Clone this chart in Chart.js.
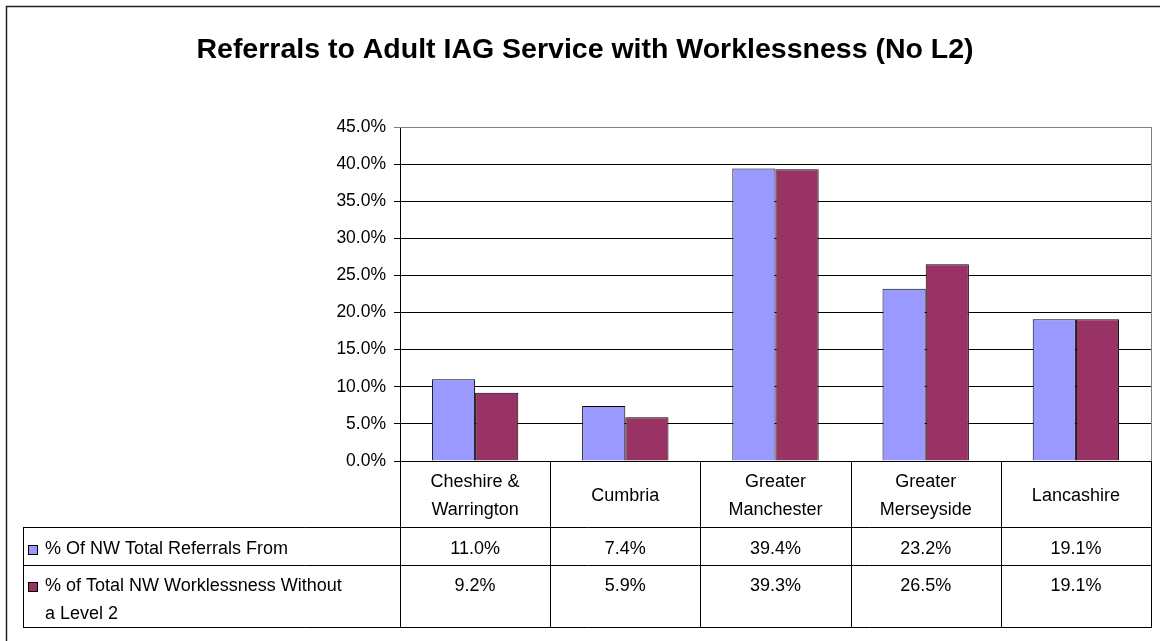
<!DOCTYPE html>
<html lang="en">
<head>
  <meta charset="UTF-8" />
  <title>Referrals to Adult IAG Service with Worklessness (No L2)</title>
  <script src="https://cdn.jsdelivr.net/npm/chart.js"></script>
  <style>
    body {
      margin: 0;
      background: #fff;
      overflow: hidden;
    }
    #wrap {
      position: relative;
      width: 1160px;
      height: 641px;
    }
  </style>
</head>
<body>
  <div id="wrap"><canvas id="chart" width="1160" height="641"></canvas></div>

  <script>
    const chartTitle = "Referrals to Adult IAG Service with Worklessness (No L2)";
    const categories = [["Cheshire &", "Warrington"], ["Cumbria"], ["Greater", "Manchester"], ["Greater", "Merseyside"], ["Lancashire"]];
    const seriesNames = [["% Of NW Total Referrals From"], ["% of Total NW Worklessness Without", "a Level 2"]];
    const referrals = [11.0, 7.4, 39.4, 23.2, 19.1];
    const worklessness = [9.2, 5.9, 39.3, 26.5, 19.1];
    const yTicks = [0, 5, 10, 15, 20, 25, 30, 35, 40, 45];
    const seriesColors = ["#9999ff", "#993366"];

    const FONT = "Liberation Sans, Arial, sans-serif";

    // table rows under the plot (y positions of the horizontal rules)
    const headerBottom = 527;
    const row1Bottom = 565;
    const tableBottom = 627;
    const tableLeft = 23;

    const tablePlugin = {
      id: "dataTable",
      beforeDraw(chart) {
        const ctx = chart.ctx;
        ctx.save();
        ctx.fillStyle = "#fff";
        ctx.fillRect(0, 0, chart.width, chart.height);
        ctx.strokeStyle = "#222";
        ctx.lineWidth = 1.5;
        ctx.strokeRect(6.5, 6.5, chart.width + 20, chart.height + 20);
        ctx.restore();
      },
      afterDraw(chart) {
        const ctx = chart.ctx;
        const area = chart.chartArea;
        const x = chart.scales.x;
        const step = (area.right - area.left) / categories.length;
        ctx.save();

        // title
        ctx.fillStyle = "#000";
        ctx.font = "bold 28.5px " + FONT;
        ctx.textAlign = "center";
        ctx.textBaseline = "alphabetic";
        ctx.fillText(chartTitle, 585, 58);

        // plot area right/top edge
        ctx.strokeStyle = "#808080";
        ctx.lineWidth = 1;
        ctx.beginPath();
        ctx.moveTo(area.left, area.top + 0.5);
        ctx.lineTo(area.right + 1, area.top + 0.5);
        ctx.moveTo(area.right + 0.5, area.top);
        ctx.lineTo(area.right + 0.5, area.bottom);
        ctx.stroke();

        // table grid
        ctx.strokeStyle = "#000";
        ctx.beginPath();
        [headerBottom, row1Bottom, tableBottom].forEach(y => {
          ctx.moveTo(tableLeft, y + 0.5);
          ctx.lineTo(area.right + 1, y + 0.5);
        });
        ctx.moveTo(tableLeft + 0.5, headerBottom);
        ctx.lineTo(tableLeft + 0.5, tableBottom + 1);
        for (let i = 0; i <= categories.length; i++) {
          const lx = Math.round(area.left + i * step) + 0.5;
          ctx.moveTo(lx, area.bottom);
          ctx.lineTo(lx, tableBottom + 1);
        }
        ctx.stroke();

        ctx.font = "18px " + FONT;
        ctx.fillStyle = "#000";
        ctx.textAlign = "center";
        ctx.textBaseline = "middle";

        // category headers
        categories.forEach((lines, i) => {
          const cx = x.getPixelForValue(i);
          const mid = (area.bottom + headerBottom) / 2 + 2;
          lines.forEach((t, j) => {
            ctx.fillText(t, cx, mid + (j - (lines.length - 1) / 2) * 28);
          });
        });

        // value rows
        const rows = [referrals, worklessness];
        const rowMid = [headerBottom + 22, row1Bottom + 21];
        rows.forEach((vals, r) => {
          const ty = rowMid[r];
          vals.forEach((v, i) => {
            ctx.textAlign = "center";
            ctx.fillText(v.toFixed(1) + "%", x.getPixelForValue(i), ty);
          });
          // legend key and series name
          ctx.fillStyle = seriesColors[r];
          ctx.fillRect(28.5, ty - 3.5, 9, 9);
          ctx.strokeRect(28.5, ty - 3.5, 9, 9);
          ctx.fillStyle = "#000";
          ctx.textAlign = "left";
          seriesNames[r].forEach((t, j) => {
            ctx.fillText(t, 45, ty + j * 28);
          });
        });

        ctx.restore();
      }
    };

    new Chart(document.getElementById("chart"), {
      type: "bar",
      data: {
        labels: categories.map(c => c.join(" ")),
        datasets: [
          {
            label: seriesNames[0].join(" "),
            data: referrals,
            backgroundColor: seriesColors[0],
            borderColor: "#000",
            borderWidth: 1
          },
          {
            label: seriesNames[1].join(" "),
            data: worklessness,
            backgroundColor: seriesColors[1],
            borderColor: "#000",
            borderWidth: 1
          }
        ]
      },
      options: {
        responsive: false,
        animation: false,
        layout: { padding: { left: 0, right: 9, top: 127, bottom: 180 } },
        datasets: {
          bar: { categoryPercentage: 0.575, barPercentage: 1 }
        },
        plugins: {
          legend: { display: false },
          title: { display: false },
          tooltip: { enabled: false }
        },
        scales: {
          x: { display: false },
          y: {
            min: 0,
            max: 45,
            afterFit(scale) { scale.width = 400; },
            afterBuildTicks(scale) { scale.ticks = yTicks.map(v => ({ value: v })); },
            border: { display: true, color: "#000", width: 1 },
            grid: {
              color: ctx => ctx.tick && ctx.tick.value === 45 ? "#808080" : "#000",
              lineWidth: 1,
              tickLength: 6
            },
            ticks: {
              color: "#000",
              padding: 8,
              font: { family: FONT, size: 17.5 },
              callback: v => v.toFixed(1) + "%"
            }
          }
        }
      },
      plugins: [tablePlugin]
    });
  </script>
</body>
</html>
